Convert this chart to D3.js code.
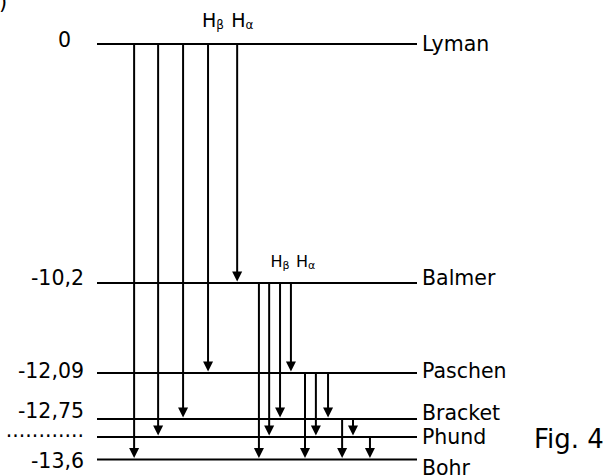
<!DOCTYPE html>
<html>
<head>
<meta charset="utf-8">
<script src="https://cdn.jsdelivr.net/npm/d3@7"></script>
<style>
  html, body { margin: 0; padding: 0; background: #fff; }
  svg { display: block; }
  text { font-family: "DejaVu Sans", Verdana, sans-serif; fill: #000; }
</style>
</head>
<body>
<script>
// ---------- data ----------
const levels = ["Lyman", "Balmer", "Paschen", "Bracket", "Phund", "Bohr"];
const energies = [0, -10.2, -12.09, -12.75, -13.06, -13.6];
const tickLabels = ["0", "-10,2", "-12,09", "-12,75", "............", "-13,6"];

// transitions (arrows): from level, to level, horizontal slot (0..100 along the level line)
const transFrom = ["Lyman", "Lyman", "Lyman", "Lyman", "Lyman",
                   "Balmer", "Balmer", "Balmer", "Balmer",
                   "Paschen", "Paschen", "Paschen",
                   "Bracket", "Bracket",
                   "Phund"];
const transTo = ["Bohr", "Phund", "Bracket", "Paschen", "Balmer",
                 "Bohr", "Phund", "Bracket", "Paschen",
                 "Bohr", "Phund", "Bracket",
                 "Bohr", "Phund",
                 "Bohr"];
const transSlot = [11.6, 19.1, 26.9, 34.7, 43.8,
                   50.6, 53.8, 57.2, 60.6,
                   65.0, 68.4, 72.2,
                   76.6, 80.0,
                   85.3];

// line names H-beta / H-alpha attached to transitions (index into the arrays above)
const lineNameSub = ["β", "α", "β", "α"];
const lineNameTrans = [3, 4, 7, 8];

const figLabel = "Fig. 4";

// ---------- layout ----------
const W = 611, H = 475;
const layout = {
  yRange: [44, 283, 373, 419, 437, 459.5],
  xRange: [97, 417],
  tickX: 84,
  tickDx: [-13, 0, 0, 0, 0, 0],
  tickDy: [3, 2, 5, -1, 0, 8],
  nameDy: [7, 2, 5, 1, 7, 15],
  lineNameDx: [-6, -6, -9.5, 5],
  lineNameBase: [26.7, 26.7, 266.7, 266.7],
  lineNameSize: [19, 19, 16, 16],
  lineNameSubSize: [12, 12, 11, 11],
  head: 10, headW: 10
};

const svg = d3.select("body").append("svg")
  .attr("width", W).attr("height", H);

const y = d3.scaleLinear().domain(energies).range(layout.yRange);
const x = d3.scaleLinear().domain([0, 100]).range(layout.xRange);
const yOf = name => y(energies[levels.indexOf(name)]);

// cropped glyph at the top-left corner
svg.append("text").attr("x", -1).attr("y", 9).attr("font-size", 21).text(")");

// level lines
svg.append("g").selectAll("line").data(levels).join("line")
  .attr("x1", x(0)).attr("x2", x(100))
  .attr("y1", d => yOf(d)).attr("y2", d => yOf(d))
  .attr("stroke", "#000").attr("stroke-width", 2);

// level names on the right
svg.append("g").selectAll("text").data(levels).join("text")
  .attr("x", x(100) + 5)
  .attr("y", (d, i) => yOf(d) + layout.nameDy[i])
  .attr("font-size", 20.5)
  .text(d => d);

// energy tick labels on the left
svg.append("g").selectAll("text").data(tickLabels).join("text")
  .attr("x", (d, i) => layout.tickX + layout.tickDx[i])
  .attr("y", (d, i) => y(energies[i]) + layout.tickDy[i])
  .attr("text-anchor", "end")
  .attr("font-size", 20.5)
  .text(d => d);

// arrows
const arrows = transSlot.map((s, i) => ({
  x: x(s), y1: yOf(transFrom[i]) + 1, y2: yOf(transTo[i]) - 1.5
}));
const ag = svg.append("g");
ag.selectAll("line").data(arrows).join("line")
  .attr("x1", d => d.x).attr("x2", d => d.x)
  .attr("y1", d => d.y1).attr("y2", d => d.y2 - layout.head + 1)
  .attr("stroke", "#000").attr("stroke-width", 2);
ag.selectAll("path").data(arrows).join("path")
  .attr("d", d => `M${d.x - layout.headW / 2},${d.y2 - layout.head}L${d.x + layout.headW / 2},${d.y2 - layout.head}L${d.x},${d.y2}Z`)
  .attr("fill", "#000");

// H-beta / H-alpha labels
const ng = svg.append("g");
lineNameSub.forEach((sub, k) => {
  const t = ng.append("text")
    .attr("x", arrows[lineNameTrans[k]].x + layout.lineNameDx[k])
    .attr("y", layout.lineNameBase[k])
    .attr("font-size", layout.lineNameSize[k]);
  t.append("tspan").text("H");
  t.append("tspan").attr("dy", 2).attr("font-size", layout.lineNameSubSize[k]).text(sub);
});

// figure label
svg.append("text").attr("x", 534).attr("y", 447.5).attr("font-size", 26).text(figLabel);
</script>
</body>
</html>
